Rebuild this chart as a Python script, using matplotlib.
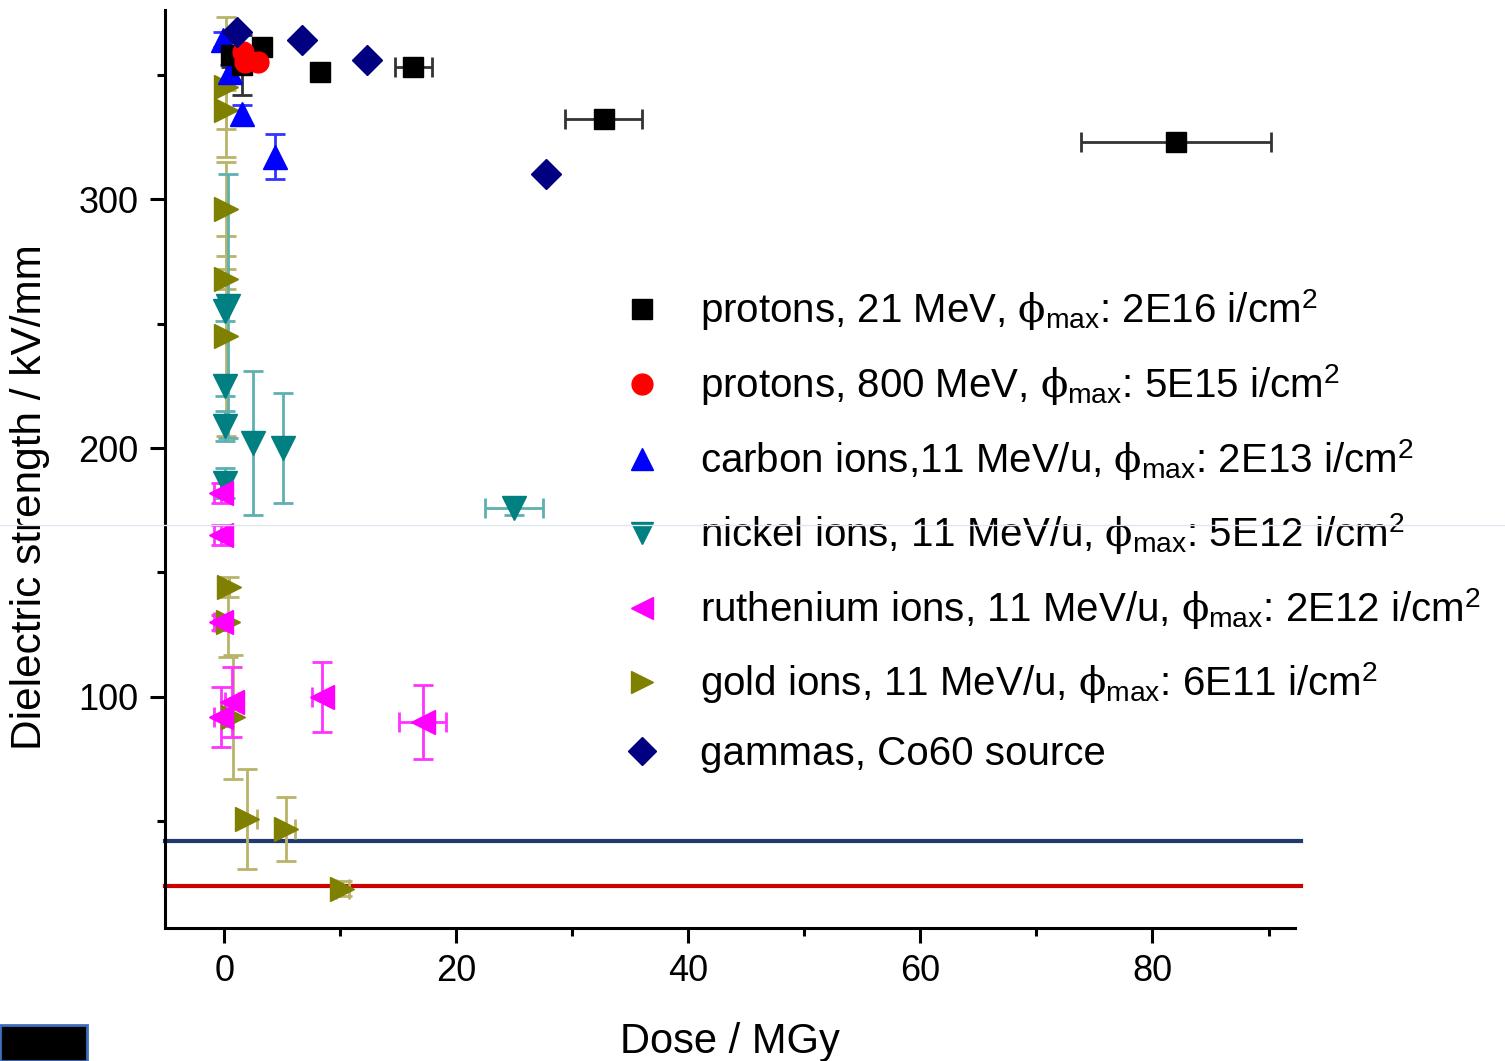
import matplotlib
matplotlib.use("Agg")
import matplotlib.pyplot as plt
from matplotlib.lines import Line2D
from matplotlib.patches import Rectangle

plt.rcParams.update({
    "font.family": ["Liberation Sans", "DejaVu Sans"],
    "mathtext.fontset": "custom",
    "mathtext.rm": "Liberation Sans",
    "mathtext.it": "DejaVu Serif",
    "axes.spines.top": False, "axes.spines.right": False,
})

# protons 21 MeV
p21_x = [0.6, 1.5, 3.3, 8.3, 16.3, 32.7, 82.0]
p21_y = [358, 354, 361, 351, 353, 332, 323]
p21_xerr = [0, 0, 0, 0, 1.6, 3.3, 8.2]
p21_yerr = [5, 12, 0, 0, 0, 0, 0]

# protons 800 MeV
p800_x = [1.6, 1.8, 2.9]
p800_y = [359, 355, 355]

# carbon ions
c_x = [-0.1, 0.5, 1.5, 4.4]
c_y = [364, 351, 334, 317]
c_yerr = [3, 3, 4, 9]

# nickel ions
ni_x = [0.1, 0.3, 0.1, 0.1, 2.5, 5.1, 0.1, 25.0]
ni_y = [255, 257, 225, 209, 202, 200, 186, 176]
ni_xerr = [0, 0, 0, 0, 0, 0, 0, 2.5]
ni_yerr = [4, 53, 4, 6, 29, 22, 6, 3]

# ruthenium ions
ru_x = [-0.3, -0.3, -0.3, 0.7, -0.3, 8.4, 17.1]
ru_y = [182, 165, 130, 98, 92, 100, 90]
ru_xerr = [0.6, 0.6, 0.6, 0.6, 0.6, 0.8, 2.0]
ru_yerr = [4, 4, 3, 14, 12, 14, 15]

# gold ions
au_x = [0.2, 0.2, 0.2, 0.2, 0.2, 0.4, 0.3, 0.8, 2.0, 5.3, 10.2]
au_y = [345, 336, 296, 268, 245, 144, 130, 92, 51, 47, 23]
au_yerr = [28, 8, 19, 4, 40, 4, 14, 25, 20, 13, 3]
au_xerr = [0, 0, 0, 0, 0, 0, 0, 0, 0.8, 0.8, 0.6]

# gammas
g_x = [1.1, 6.7, 12.3, 27.7]
g_y = [367, 364, 356, 310]

# reference lines
line_navy = 42
line_red = 24

labels = [
    r"protons, 21 MeV, $\phi_{\rm max}$: 2E16 i/cm$^{\rm 2}$",
    r"protons, 800 MeV, $\phi_{\rm max}$: 5E15 i/cm$^{\rm 2}$",
    r"carbon ions,11 MeV/u, $\phi_{\rm max}$: 2E13 i/cm$^{\rm 2}$",
    r"nickel ions, 11 MeV/u, $\phi_{\rm max}$: 5E12 i/cm$^{\rm 2}$",
    r"ruthenium ions, 11 MeV/u, $\phi_{\rm max}$: 2E12 i/cm$^{\rm 2}$",
    r"gold ions, 11 MeV/u, $\phi_{\rm max}$: 6E11 i/cm$^{\rm 2}$",
    "gammas, Co60 source",
]

fig = plt.figure(figsize=(15.05, 10.61), dpi=100)
ax = fig.add_axes([0.1096, 0.1254, 0.751, 0.865])

ax.axhline(line_navy, color="#1f3a6e", lw=3, xmax=1.005, clip_on=False, zorder=1)
ax.axhline(line_red, color="#cc0000", lw=3, xmax=1.005, clip_on=False, zorder=1)

eb = dict(ls="none", capsize=7, elinewidth=2, capthick=2)
ax.errorbar(au_x, au_y, yerr=au_yerr, xerr=au_xerr, fmt=">", ms=17, color="#808000",
            ecolor="#b8b46a", zorder=3, **eb)
ax.errorbar(ni_x, ni_y, yerr=ni_yerr, xerr=ni_xerr, fmt="v", ms=17, color="#008080",
            ecolor="#5fb0b0", zorder=3, **eb)
ax.errorbar(ru_x, ru_y, yerr=ru_yerr, xerr=ru_xerr, fmt="<", ms=17, color="#ff00ff",
            ecolor="#ff33ff", zorder=3, **eb)
ax.errorbar(c_x, c_y, yerr=c_yerr, fmt="^", ms=17, color="#0000ff",
            ecolor="#3333ff", zorder=4, **eb)
ax.errorbar(p21_x, p21_y, yerr=p21_yerr, xerr=p21_xerr, fmt="s", ms=14, color="black",
            ecolor="#333333", zorder=4, **eb)
ax.errorbar(p800_x, p800_y, fmt="o", ms=15, color="#ff0000", zorder=5, ls="none")
ax.errorbar(g_x, g_y, fmt="D", ms=15, color="#000080", zorder=5, ls="none")

leg_handles = [
    Line2D([], [], marker="s", ms=14, color="black", ls="none"),
    Line2D([], [], marker="o", ms=15, color="#ff0000", ls="none"),
    Line2D([], [], marker="^", ms=16, color="#0000ff", ls="none"),
    Line2D([], [], marker="v", ms=16, color="#008080", ls="none"),
    Line2D([], [], marker="<", ms=16, color="#ff00ff", ls="none"),
    Line2D([], [], marker=">", ms=16, color="#808000", ls="none"),
    Line2D([], [], marker="D", ms=14, color="#000080", ls="none"),
]
ax.legend(leg_handles, labels, loc="upper left", bbox_to_anchor=(0.39, 0.715),
          frameon=False, fontsize=29, labelspacing=0.72, handletextpad=0.95,
          borderaxespad=0, handlelength=1.0)

ax.set_xlim(-5.1, 92.3)
ax.set_ylim(7.2, 375.9)
ax.set_xticks([0, 20, 40, 60, 80])
ax.set_xticks([10, 30, 50, 70, 90], minor=True)
ax.set_yticks([100, 200, 300])
ax.set_yticks([50, 150, 250, 350], minor=True)
ax.tick_params(which="major", direction="out", length=11, width=2.2, labelsize=26, pad=8)
ax.tick_params(which="minor", direction="out", length=6, width=2.2)
for s in ("left", "bottom"):
    ax.spines[s].set_linewidth(2.2)

ax.set_xlabel("Dose / MGy", fontsize=30)
ax.xaxis.set_label_coords(0.5, -0.102)
ax.set_ylabel("Dielectric strength / kV/mm", fontsize=30.5)
ax.yaxis.set_label_coords(-0.102, 0.4695)

# slide artefacts: faint guide line and cropped logo corner
fig.add_artist(Line2D([0, 1], [0.505, 0.505], color="#dfe7f0", lw=1, transform=fig.transFigure))
fig.add_artist(Rectangle((0, 0), 0.058, 0.034, facecolor="black", edgecolor="#3d6fbf",
                         lw=2, transform=fig.transFigure))

fig.savefig("out.png", dpi=100)
